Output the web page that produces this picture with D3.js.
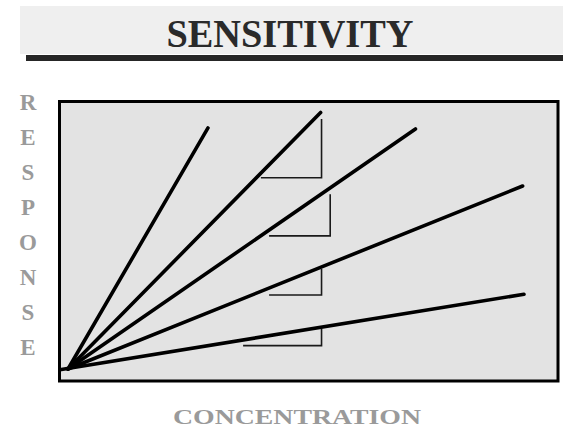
<!DOCTYPE html>
<html>
<head>
<meta charset="utf-8">
<script src="https://cdn.jsdelivr.net/npm/d3@7"></script>
<style>
  html, body { margin: 0; padding: 0; background: #ffffff; }
  svg { display: block; }
</style>
</head>
<body>
<svg id="chart" width="563" height="430"></svg>
<script>
// Calibration lines of increasing sensitivity (response per unit concentration)
const titleText = "SENSITIVITY";
const xLabel = "CONCENTRATION";
const yLabelLetters = ["R", "E", "S", "P", "O", "N", "S", "E"];

// Line endpoints in concentration / response units
const lineStartX = [0, 0, 0, 0, -1.8];
const lineStartY = [0, 0, 0, 0, -0.3];
const lineEndX   = [30.7, 55.4, 76.2, 99.7, 100];
const lineEndY   = [93.8, 99.8, 93.4, 71.2, 29.1];

// Slope triangles: corner (x, yLow), rise to yHigh, run back to xLeft
const triCornerX = [55.6, 57.5, 55.6, 55.6];
const triLowY    = [74.4, 51.8, 28.8, 9.1];
const triHighY   = [97.3, 68.0, 38.9, 15.8];
const triLeftX   = [42.3, 44.1, 44.1, 38.4];

const svg = d3.select("#chart");

// Title banner
svg.append("rect")
  .attr("x", 20).attr("y", 6).attr("width", 543).attr("height", 48)
  .attr("fill", "#efefef");
svg.append("rect")
  .attr("x", 26).attr("y", 55).attr("width", 537).attr("height", 6)
  .attr("fill", "#262626");
svg.append("text")
  .attr("x", 290).attr("y", 47)
  .attr("text-anchor", "middle")
  .attr("font-family", "'Liberation Serif', 'Times New Roman', serif")
  .attr("font-weight", "bold")
  .attr("font-size", 40)
  .attr("fill", "#2a2a2a")
  .attr("textLength", 247)
  .attr("lengthAdjust", "spacingAndGlyphs")
  .text(titleText);

// Plot frame
svg.append("rect")
  .attr("x", 59.5).attr("y", 101.5).attr("width", 498.5).attr("height", 279.5)
  .attr("fill", "#e3e3e3")
  .attr("stroke", "#000").attr("stroke-width", 3);

const x = d3.scaleLinear().domain([0, 100]).range([68, 524]);
const y = d3.scaleLinear().domain([0, 100]).range([369, 112]);

const plot = svg.append("g");

// Slope triangles (thin)
const triData = triCornerX.map((cx, i) => ({
  cx, lo: triLowY[i], hi: triHighY[i], left: triLeftX[i]
}));
plot.selectAll("path.tri").data(triData).join("path")
  .attr("class", "tri")
  .attr("fill", "none")
  .attr("stroke", "#1a1a1a")
  .attr("stroke-width", 1.6)
  .attr("d", d => d3.line()([
    [x(d.cx), y(d.hi)], [x(d.cx), y(d.lo)], [x(d.left), y(d.lo)]
  ]));

// Calibration lines
const lineData = lineEndX.map((ex, i) => ([
  [lineStartX[i], lineStartY[i]], [ex, lineEndY[i]]
]));
const lineGen = d3.line().x(d => x(d[0])).y(d => y(d[1]));
plot.selectAll("path.cal").data(lineData).join("path")
  .attr("class", "cal")
  .attr("fill", "none")
  .attr("stroke", "#000")
  .attr("stroke-width", 3.6)
  .attr("stroke-linecap", "round")
  .attr("d", lineGen);

// Axis labels
svg.append("text")
  .attr("x", 297).attr("y", 424)
  .attr("text-anchor", "middle")
  .attr("font-family", "'Liberation Serif', 'Times New Roman', serif")
  .attr("font-weight", "bold")
  .attr("font-size", 21)
  .attr("fill", "#9a9a9a")
  .attr("textLength", 248)
  .attr("lengthAdjust", "spacingAndGlyphs")
  .text(xLabel);

svg.append("g").selectAll("text").data(yLabelLetters).join("text")
  .attr("x", 28)
  .attr("y", (d, i) => 110 + i * 35)
  .attr("text-anchor", "middle")
  .attr("font-family", "'Liberation Serif', 'Times New Roman', serif")
  .attr("font-weight", "bold")
  .attr("font-size", 23)
  .attr("fill", "#9a9a9a")
  .text(d => d);
</script>
</body>
</html>
